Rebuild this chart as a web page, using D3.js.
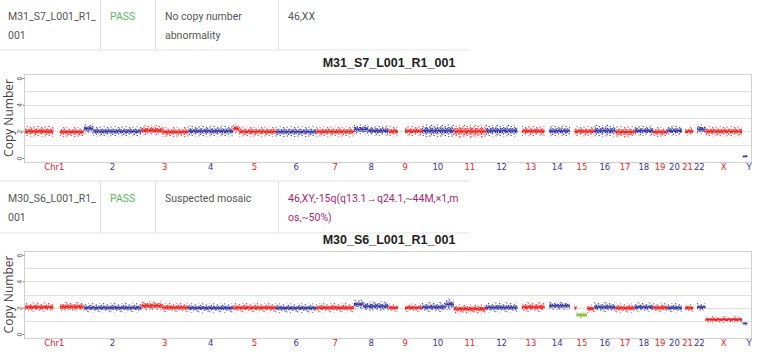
<!DOCTYPE html>
<html>
<head>
<meta charset="utf-8">
<script src="https://cdn.jsdelivr.net/npm/d3@7/dist/d3.min.js"></script>
<style>
body { margin: 0; background: #fff; }
svg { display: block; font-family: Roboto, "Noto Sans", sans-serif; }
</style>
</head>
<body>
<div id="chart"></div>
<script>
// chromosome names and lengths (hg19, Mb) - the x axis is the genome laid end to end
var chroms   = ["1","2","3","4","5","6","7","8","9","10","11","12","13","14","15","16","17","18","19","20","21","22","X","Y"];
var chromLen = [249.25,243.20,198.02,191.15,180.92,171.12,159.14,146.36,141.21,135.53,135.01,133.85,115.17,107.35,102.53,90.35,81.20,78.08,59.13,63.03,48.13,51.30,155.27,59.37];

// copy number tick values
var yTicks = [0, 2, 4, 6];
var yGrid  = [1, 2, 3, 4, 5];

// table rows: sample, QC, conclusion, karyotype
var sampleTop    = ["M31_S7_L001_R1_", "001"];
var qcTop        = "PASS";
var resultTop    = ["No copy number", "abnormality"];
var karyoTop     = ["46,XX"];
var sampleBottom = ["M30_S6_L001_R1_", "001"];
var qcBottom     = "PASS";
var resultBottom = ["Suspected mosaic"];
var karyoBottom  = ["46,XY,-15q(q13.1\u2192q24.1,~44M,\u00d71,m", "os,~50%)"];

// segments: [chromosome, start Mb, end Mb, copy number, scatter, abnormal]
var segTop = [
  ["1",0.8,120,2.0,0.32,0],["1",148,249,1.95,0.3,0],
  ["2",0.5,40,2.2,0.3,0],["2",40,243,2.0,0.3,0],
  ["3",0.5,90,2.08,0.3,0],["3",90,198,1.95,0.3,0],
  ["4",0.5,191,2.02,0.32,0],
  ["5",0.5,25,2.2,0.3,0],["5",25,181,1.98,0.3,0],
  ["6",0.5,171,1.97,0.32,0],
  ["7",0.5,159,1.98,0.3,0],
  ["8",0.5,60,2.15,0.3,0],["8",60,146,2.05,0.3,0],
  ["9",0.5,40,2.0,0.3,0],["9",70,141,2.02,0.3,0],
  ["10",0.5,135.5,2.05,0.38,0],
  ["11",0.5,135,2.0,0.4,0],
  ["12",0.5,133.8,2.05,0.35,0],
  ["13",19,115,2.02,0.3,0],
  ["14",19,107,2.03,0.32,0],
  ["15",20,102.5,2.0,0.3,0],
  ["16",0.5,90,2.05,0.35,0],
  ["17",0.5,81,1.95,0.35,0],
  ["18",0.5,78,2.05,0.3,0],
  ["19",0.5,59,1.95,0.3,0],
  ["20",0.5,63,2.05,0.3,0],
  ["21",14,48,2.0,0.25,0],
  ["22",16,51,2.15,0.3,0],
  ["X",0.5,155,2.0,0.3,0],
  ["Y",3,22,0.12,0.08,0]
];
var segBottom = [
  ["1",0.8,120,2.05,0.28,0],["1",148,249,2.08,0.28,0],
  ["2",0.5,243,2.0,0.28,0],
  ["3",0.5,90,2.15,0.28,0],["3",90,198,2.02,0.28,0],
  ["4",0.5,191,1.98,0.28,0],
  ["5",0.5,181,2.0,0.28,0],
  ["6",0.5,171,1.97,0.28,0],
  ["7",0.5,159,2.0,0.28,0],
  ["8",0.5,40,2.25,0.3,0],["8",40,146,2.12,0.3,0],
  ["9",0.5,40,2.0,0.25,0],["9",70,141,2.0,0.25,0],
  ["10",0.5,100,2.05,0.3,0],["10",100,135.5,2.25,0.35,0],
  ["11",0.5,135,1.9,0.28,0],
  ["12",0.5,133.8,2.02,0.3,0],
  ["13",19,115,2.05,0.3,0],
  ["14",19,107,2.15,0.25,0],
  ["15",20,28,2.0,0.2,0],["15",28,72,1.45,0.2,1],["15",72,102.5,1.92,0.25,0],
  ["16",0.5,90,2.05,0.3,0],
  ["17",0.5,81,1.97,0.28,0],
  ["18",0.5,78,2.05,0.28,0],
  ["19",0.5,59,2.0,0.28,0],
  ["20",0.5,63,2.0,0.28,0],
  ["21",14,48,1.98,0.25,0],
  ["22",16,51,2.05,0.25,0],
  ["X",0.5,155,1.1,0.2,0],
  ["Y",3,22,0.8,0.12,0]
];

var W = 757, H = 358;
var red = "#f51a1a", blue = "#35359e", green = "#8cc43c";

// cumulative chromosome start positions
var chromStart = {};
var acc = 0;
chroms.forEach(function(c, i) { chromStart[c] = acc; acc += chromLen[i]; });
function chrColor(c) { var i = chroms.indexOf(c); return i % 2 == 0 ? red : blue; }

var svg = d3.select("#chart").append("svg")
  .attr("width", W)
  .attr("height", H);

// dotted fills that give the scatter texture of the bins
var defs = svg.append("defs");
[["r", red], ["b", blue], ["g", green]].forEach(function(p) {
  var dense = defs.append("pattern").attr("id", "dense-" + p[0])
    .attr("patternUnits", "userSpaceOnUse").attr("width", 5).attr("height", 4);
  [[0.6,0.7],[2.3,0.4],[4.1,1.1],[1.4,2.0],[3.2,2.3],[0.4,3.4],[2.2,3.6],[4.4,3.2]].forEach(function(d) {
    dense.append("circle").attr("cx", d[0]).attr("cy", d[1]).attr("r", 0.7).attr("fill", p[1]);
  });
  var sparse = defs.append("pattern").attr("id", "sparse-" + p[0])
    .attr("patternUnits", "userSpaceOnUse").attr("width", 11).attr("height", 9);
  [[1,1],[5.2,0.6],[8.7,1.8],[3.1,3.2],[6.9,4.0],[10.2,5.1],[0.8,5.9],[4.6,6.8],[8.3,7.9],[2.4,8.4],[9.6,3.1]].forEach(function(d) {
    sparse.append("circle").attr("cx", d[0]).attr("cy", d[1]).attr("r", 0.7).attr("fill", p[1]);
  });
});
function fillKey(s) { return s[5] ? "g" : (chrColor(s[0]) == red ? "r" : "b"); }

var x = d3.scaleLinear().domain([-4, 3074]).range([24, 751]);

// ---- tables ----
function drawTable(top, bottom, rows) {
  var g = svg.append("g");
  var cols = [0, 100, 155, 278, 470];
  g.append("line").attr("x1", 0).attr("x2", cols[4]).attr("y1", top).attr("y2", top).attr("stroke", "#e2e2e2");
  g.append("line").attr("x1", 0).attr("x2", cols[4]).attr("y1", bottom).attr("y2", bottom).attr("stroke", "#e2e2e2");
  [1, 2, 3].forEach(function(i) {
    g.append("line").attr("x1", cols[i] + 0.5).attr("x2", cols[i] + 0.5)
      .attr("y1", top).attr("y2", bottom).attr("stroke", "#e2e2e2");
  });
  rows.forEach(function(cell, i) {
    var t = g.append("text").attr("x", cols[i] + 8).attr("y", top + 21)
      .attr("font-size", "10.5px").attr("fill", cell.color);
    cell.lines.forEach(function(l, j) {
      t.append("tspan").attr("x", cols[i] + (i == 0 ? 8 : 10)).attr("dy", j == 0 ? 0 : 19).text(l);
    });
  });
}
drawTable(-1, 50, [
  {lines: sampleTop, color: "#555"},
  {lines: [qcTop], color: "#5cb85c"},
  {lines: resultTop, color: "#555"},
  {lines: karyoTop, color: "#555"}
]);
drawTable(181, 233, [
  {lines: sampleBottom, color: "#555"},
  {lines: [qcBottom], color: "#5cb85c"},
  {lines: resultBottom, color: "#555"},
  {lines: karyoBottom, color: "#a8266f"}
]);

// ---- copy number plots ----
function drawPlot(title, segs, top, bottom, titleY) {
  var y = d3.scaleLinear().domain([-0.3, 6.3]).range([bottom, top]);
  var g = svg.append("g");

  g.append("text").attr("x", 389).attr("y", titleY)
    .attr("text-anchor", "middle").attr("font-size", "12.5px").attr("font-weight", "bold")
    .attr("font-family", "'Liberation Sans', Arial, sans-serif")
    .attr("fill", "#222").text(title);

  g.selectAll(".grid").data(yGrid).enter().append("line")
    .attr("x1", x.range()[0]).attr("x2", x.range()[1])
    .attr("y1", function(d) { return Math.round(y(d)) + 0.5; })
    .attr("y2", function(d) { return Math.round(y(d)) + 0.5; })
    .attr("stroke", "#e0e0e0");

  g.append("rect").attr("x", 24.5).attr("y", top + 0.5)
    .attr("width", 751 - 24).attr("height", bottom - top)
    .attr("fill", "none").attr("stroke", "#d0d0d0");

  function segX(d) { return x(chromStart[d[0]] + d[1]); }
  function segW(d) { return x(chromStart[d[0]] + d[2]) - x(chromStart[d[0]] + d[1]); }

  // outer scatter, inner scatter, centre line
  g.selectAll(".outer").data(segs).enter().append("rect")
    .attr("x", segX).attr("width", segW)
    .attr("y", function(d) { return y(d[3] + d[4] * 1.25); })
    .attr("height", function(d) { return y(d[3] - d[4] * 1.25) - y(d[3] + d[4] * 1.25); })
    .attr("fill", function(d) { return "url(#sparse-" + fillKey(d) + ")"; });
  g.selectAll(".inner").data(segs).enter().append("rect")
    .attr("x", segX).attr("width", segW)
    .attr("y", function(d) { return y(d[3] + d[4] * 0.6); })
    .attr("height", function(d) { return y(d[3] - d[4] * 0.6) - y(d[3] + d[4] * 0.6); })
    .attr("fill", function(d) { return "url(#dense-" + fillKey(d) + ")"; });
  g.selectAll(".core").data(segs).enter().append("rect")
    .attr("x", segX).attr("width", segW)
    .attr("y", function(d) { return y(d[3] + (d[5] ? 0.1 : 0.06)); })
    .attr("height", function(d) { return y(d[3] - (d[5] ? 0.1 : 0.06)) - y(d[3] + (d[5] ? 0.1 : 0.06)); })
    .attr("fill", function(d) { return d[5] ? green : chrColor(d[0]); })
    .attr("opacity", 0.9);

  // y axis with rotated tick labels
  var ax = g.append("g").attr("transform", "translate(24.5,0)")
    .call(d3.axisLeft(y).tickValues(yTicks).tickSize(2).tickFormat(d3.format("d")));
  ax.select(".domain").remove();
  ax.selectAll("line").attr("stroke", "#888");
  ax.selectAll("text")
    .attr("x", 0).attr("dy", 0).attr("transform", "translate(-3,0) rotate(-90)")
    .attr("text-anchor", "middle").attr("font-size", "7px").attr("fill", "#555");

  g.append("text")
    .attr("transform", "translate(13," + ((top + bottom) / 2) + ") rotate(-90)")
    .attr("text-anchor", "middle").attr("font-size", "12px")
    .attr("font-family", "'Open Sans', sans-serif").attr("fill", "#444")
    .text("Copy Number");

  // chromosome labels under each chromosome
  g.selectAll(".chr").data(chroms).enter().append("text")
    .attr("x", function(c, i) { return x(chromStart[c] + chromLen[i] / 2); })
    .attr("y", bottom + 8)
    .attr("text-anchor", "middle").attr("font-size", "8.5px")
    .attr("font-family", "'DejaVu Sans', sans-serif")
    .attr("fill", function(c) { return chrColor(c); })
    .text(function(c) { return c == "1" ? "Chr1" : c; });
}

drawPlot("M31_S7_L001_R1_001", segTop, 74, 162, 67);
drawPlot("M30_S6_L001_R1_001", segBottom, 251, 338, 244);
</script>
</body>
</html>
